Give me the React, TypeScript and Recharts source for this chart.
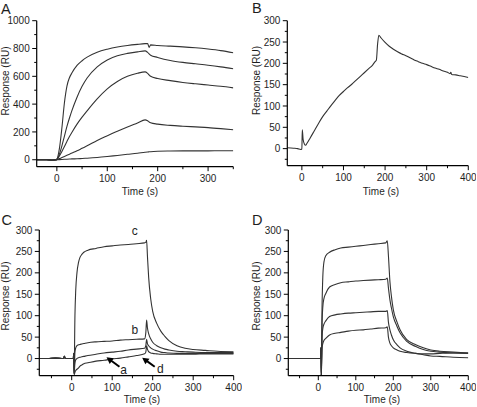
import React from 'react';
import { LineChart, Line, XAxis, YAxis, ReferenceLine, ReferenceDot } from 'recharts';

// ---------- Panel A ----------
const A_TIME = [-40, -20, -10, -5, 0, 5, 10, 15, 20, 25, 30, 40, 50, 60, 80, 100, 120, 140, 160, 175, 180, 183, 186, 200, 225, 250, 275, 300, 325, 350];
const A_CURVE1 = [0, 0, -4, -2, 5, 80, 230, 410, 530, 590, 625, 678, 712, 738, 773, 795, 811, 822, 830, 835, 836, 808, 826, 822, 817, 812, 805, 796, 785, 770];
const A_CURVE2 = [0, 0, -3, -2, 2, 40, 100, 170, 240, 300, 355, 450, 528, 588, 668, 718, 748, 765, 776, 783, 772, 762, 752, 736, 714, 700, 690, 680, 668, 654];
const A_CURVE3 = [0, 0, -2, -1, 1, 28, 60, 95, 132, 167, 198, 256, 306, 352, 438, 510, 563, 600, 622, 632, 621, 610, 600, 584, 569, 556, 546, 537, 528, 517];
const A_CURVE4 = [0, 0, -2, -1, 1, 8, 16, 24, 32, 40, 48, 64, 82, 100, 138, 172, 205, 236, 265, 287, 280, 272, 266, 256, 247, 241, 236, 231, 224, 216];
const A_CURVE5 = [0, 0, -2, -1, 0, 1, 2, 3, 4, 5, 6, 7, 9, 11, 16, 23, 31, 39, 47, 54, 56, 57, 58, 61, 63, 64, 64, 64, 65, 65];
const A_X_TICKS = [0, 50, 100, 150, 200, 250, 300, 350];
const A_X_MAJOR = [0, 100, 200, 300];
const A_Y_TICKS = [0, 100, 200, 300, 400, 500, 600, 700, 800, 900, 1000];
const A_Y_MAJOR = [0, 200, 400, 600, 800, 1000];

// ---------- Panel B ----------
const B_TIME = [-35, -20, -10, -3, 0, 1, 3, 6, 9, 12, 20, 30, 40, 50, 60, 70, 80, 90, 100, 110, 120, 130, 140, 150, 160, 170, 176, 179, 182, 185, 190, 200, 210, 220, 230, 240, 250, 260, 270, 280, 290, 300, 310, 320, 330, 340, 350, 356, 358, 360, 370, 380, 390, 400];
const B_RESP = [2, 1, 0, -2, -1, 44, 22, 11, 8, 12, 25, 42, 59, 75, 88, 101, 113, 125, 134, 143, 151, 160, 169, 178, 187, 196, 204, 207, 245, 266, 260, 249, 240, 233, 227, 222, 218, 213, 208, 204, 200, 197, 193, 189, 186, 182, 179, 176, 179, 174, 173, 171, 169, 167];
const B_X_TICKS = [0, 50, 100, 150, 200, 250, 300, 350, 400];
const B_X_MAJOR = [0, 100, 200, 300, 400];
const B_Y_TICKS = [-25, 0, 25, 50, 75, 100, 125, 150, 175, 200, 225, 250, 275, 300];
const B_Y_MAJOR = [0, 50, 100, 150, 200, 250, 300];

// ---------- Panel C ----------
const C_TIME = [-80, -60, -40, -20, -18, -16, 0, 4, 5, 6, 8, 10, 13, 17, 20, 25, 30, 40, 60, 80, 100, 120, 140, 160, 180, 183, 185, 187, 190, 195, 200, 210, 220, 230, 240, 260, 280, 300, 330, 360, 400];
const C_CURVE_C = [0, 0, 1, 0, 5, 0, 0, 0, 12, -35, 100, 160, 200, 225, 235, 243, 248, 253, 257, 261, 263, 265, 266, 268, 270, 271, 276, 240, 190, 140, 110, 82, 64, 52, 42, 30, 24, 21, 19, 17, 16];
const C_CURVE_B = [0, 0, 1, 0, 5, 0, 0, 0, 12, -35, 15, 25, 30, 32, 33, 34, 35, 37, 39, 40, 41, 43, 44, 45, 46, 60, 90, 72, 58, 46, 38, 30, 25, 22, 20, 17, 16, 15, 14, 14, 14];
const C_CURVE_D = [0, 0, 1, 0, 5, 0, 0, 0, 12, -35, -10, -3, 0, 2, 3, 4, 5, 7, 10, 13, 15, 17, 20, 22, 24, 30, 45, 35, 30, 25, 22, 18, 15, 14, 13, 12, 12, 12, 12, 12, 12];
const C_CURVE_A = [0, 0, 1, 0, 5, 0, 0, 0, 12, -38, -32, -28, -25, -22, -18, -15, -12, -10, -6, -4, -1, 1, 4, 7, 11, 15, 30, 22, 16, 13, 12, 11, 10, 10, 10, 10, 10, 10, 11, 11, 11];
const CD_X_TICKS = [-50, 0, 50, 100, 150, 200, 250, 300, 350, 400];
const CD_X_MAJOR = [0, 100, 200, 300, 400];
const CD_Y_TICKS = [-25, 0, 25, 50, 75, 100, 125, 150, 175, 200, 225, 250, 275, 300];
const CD_Y_MAJOR = [0, 50, 100, 150, 200, 250, 300];
const C_LABELS = [
  { text: 'c', t: 156, v: 289 },
  { text: 'b', t: 156, v: 57 },
  { text: 'a', t: 128, v: -35 },
  { text: 'd', t: 219, v: -34 },
];
const C_ARROWS = [
  { from: { t: 118, v: -19 }, to: { t: 86, v: 3 } },
  { from: { t: 205, v: -19 }, to: { t: 174, v: 2 } },
];

// ---------- Panel D ----------
const D_TIME = [-80, -60, -40, -20, 0, 6, 7, 8, 10, 12, 15, 20, 30, 45, 60, 80, 100, 120, 140, 160, 180, 184, 187, 191, 195, 200, 210, 218, 236, 260, 280, 300, 324, 360, 400];
const D_CURVE1 = [0, 0, 0, 0, 0, 0, 25, -40, 120, 190, 225, 240, 248, 254, 258, 260, 262, 264, 266, 268, 270, 275, 240, 180, 145, 114, 85, 67, 44, 32, 25, 20, 17, 15, 13];
const D_CURVE2 = [0, 0, 0, 0, 0, 0, 25, -40, 80, 120, 140, 152, 167, 173, 177, 179, 181, 182, 183, 184, 185, 188, 165, 137, 118, 98, 75, 60, 40, 28, 21, 17, 15, 13, 12];
const D_CURVE3 = [0, 0, 0, 0, 0, 0, 25, -40, 50, 70, 80, 88, 98, 102, 104, 106, 107, 108, 109, 110, 110, 112, 85, 67, 55, 44, 32, 25, 17, 12, 9, 6, 5, 3, 2];
const D_CURVE4 = [0, 0, 0, 0, 0, 0, 25, -40, 25, 35, 42, 47, 55, 59, 61, 64, 66, 67, 69, 71, 72, 74, 50, 36, 30, 25, 20, 17, 14, 12, 11, 11, 12, 13, 13];

const FONT = 'Arial, "Liberation Sans", Helvetica, sans-serif';
const INK = '#1e1e1e';
const LINE = '#333333';

const build = (time: number[], series: Record<string, number[]>) =>
  time.map((t, i) => {
    const row: any = { t };
    Object.keys(series).forEach((k) => (row[k] = series[k][i]));
    return row;
  });

const dataA = build(A_TIME, { s1: A_CURVE1, s2: A_CURVE2, s3: A_CURVE3, s4: A_CURVE4, s5: A_CURVE5 });
const dataB = build(B_TIME, { s1: B_RESP });
const dataC = build(C_TIME, { c: C_CURVE_C, b: C_CURVE_B, d: C_CURVE_D, a: C_CURVE_A });
const dataD = build(D_TIME, { s1: D_CURVE1, s2: D_CURVE2, s3: D_CURVE3, s4: D_CURVE4 });

const makeXTick = (major: number[]) => (props: any) => {
  const { x, y, payload } = props;
  const isMajor = major.includes(payload.value);
  return (
    <g>
      <line x1={x} x2={x} y1={y} y2={y + (isMajor ? 4.5 : 2.5)} stroke="#000" strokeWidth={1} />
      {isMajor && (
        <text x={x} y={y + 15} textAnchor="middle" fontSize={10} fontFamily={FONT} fill={INK}>
          {payload.value}
        </text>
      )}
    </g>
  );
};

const makeYTick = (major: number[]) => (props: any) => {
  const { x, y, payload } = props;
  const isMajor = major.includes(payload.value);
  return (
    <g>
      <line x1={x} x2={x - (isMajor ? 4.5 : 2.5)} y1={y} y2={y} stroke="#000" strokeWidth={1} />
      {isMajor && (
        <text x={x - 7} y={y + 3.6} textAnchor="end" fontSize={10} fontFamily={FONT} fill={INK}>
          {payload.value}
        </text>
      )}
    </g>
  );
};

const arrowShape = (p: any) => {
  const { x1, y1, x2, y2 } = p;
  const dx = x2 - x1;
  const dy = y2 - y1;
  const len = Math.hypot(dx, dy) || 1;
  const ux = dx / len;
  const uy = dy / len;
  const hl = 6.5;
  const hw = 3.5;
  const bx = x2 - ux * hl;
  const by = y2 - uy * hl;
  const pts = `${x2},${y2} ${bx - uy * hw},${by + ux * hw} ${bx + uy * hw},${by - ux * hw}`;
  return (
    <g>
      <line x1={x1} y1={y1} x2={bx + ux} y2={by + uy} stroke="#000" strokeWidth={2} />
      <polygon points={pts} fill="#000" />
    </g>
  );
};

const textShape = (text: string) => (p: any) => (
  <text x={p.cx} y={p.cy} textAnchor="middle" fontSize={12} fontFamily={FONT} fill={INK}>
    {text}
  </text>
);

type PanelProps = {
  left: number;
  top: number;
  plotLeft: number;
  plotTop: number;
  plotRight: number;
  plotBottom: number;
  data: any[];
  keys: string[];
  xDomain: [number, number];
  yDomain: [number, number];
  xTicks: number[];
  xMajor: number[];
  yTicks: number[];
  yMajor: number[];
  children?: React.ReactNode;
};

function Panel(props: PanelProps) {
  const { left, top, plotLeft, plotTop, plotRight, plotBottom, data, keys } = props;
  const xAxisHeight = 30;
  const rightMargin = 8;
  const width = plotRight - left + rightMargin;
  const height = plotTop - top + (plotBottom - plotTop) + xAxisHeight;
  return (
    <div style={{ position: 'absolute', left, top }}>
      <LineChart
        width={width}
        height={height}
        data={data}
        margin={{ top: plotTop - top, right: rightMargin, left: 0, bottom: 0 }}
      >
        <XAxis
          dataKey="t"
          type="number"
          domain={props.xDomain}
          ticks={props.xTicks}
          interval={0}
          allowDataOverflow
          height={xAxisHeight}
          tickSize={0}
          tickMargin={0}
          tickLine={false}
          axisLine={{ stroke: '#000', strokeWidth: 1.2 }}
          tick={makeXTick(props.xMajor)}
        />
        <YAxis
          type="number"
          domain={props.yDomain}
          ticks={props.yTicks}
          interval={0}
          allowDataOverflow
          width={plotLeft - left}
          tickSize={0}
          tickMargin={0}
          tickLine={false}
          axisLine={{ stroke: '#000', strokeWidth: 1.2 }}
          tick={makeYTick(props.yMajor)}
        />
        {keys.map((k) => (
          <Line
            key={k}
            dataKey={k}
            type="monotone"
            stroke={LINE}
            strokeWidth={1.1}
            dot={false}
            activeDot={false}
            isAnimationActive={false}
          />
        ))}
        {props.children}
      </LineChart>
    </div>
  );
}

const textStyle = { fontFamily: FONT, fill: INK } as const;

export default function App() {
  return (
    <div style={{ position: 'absolute', left: 0, top: 0, width: 477, height: 407, background: '#fff', overflow: 'hidden' }}>
      <Panel
        left={0}
        top={0}
        plotLeft={36.7}
        plotTop={20.7}
        plotRight={233.3}
        plotBottom={166.7}
        data={dataA}
        keys={['s1', 's2', 's3', 's4', 's5']}
        xDomain={[-40, 350]}
        yDomain={[-50, 1000]}
        xTicks={A_X_TICKS}
        xMajor={A_X_MAJOR}
        yTicks={A_Y_TICKS}
        yMajor={A_Y_MAJOR}
      />
      <Panel
        left={240}
        top={0}
        plotLeft={287.3}
        plotTop={20.7}
        plotRight={468.3}
        plotBottom={165.7}
        data={dataB}
        keys={['s1']}
        xDomain={[-35, 400]}
        yDomain={[-40, 300]}
        xTicks={B_X_TICKS}
        xMajor={B_X_MAJOR}
        yTicks={B_Y_TICKS}
        yMajor={B_Y_MAJOR}
      />
      <Panel
        left={0}
        top={200}
        plotLeft={39.3}
        plotTop={230}
        plotRight={233.7}
        plotBottom={375.7}
        data={dataC}
        keys={['c', 'b', 'd', 'a']}
        xDomain={[-80, 400]}
        yDomain={[-40, 300]}
        xTicks={CD_X_TICKS}
        xMajor={CD_X_MAJOR}
        yTicks={CD_Y_TICKS}
        yMajor={CD_Y_MAJOR}
      >
        {C_LABELS.map((l) => (
          <ReferenceDot key={l.text} x={l.t} y={l.v} r={0} shape={textShape(l.text)} />
        ))}
        {C_ARROWS.map((a, i) => (
          <ReferenceLine
            key={'arr' + i}
            segment={[{ x: a.from.t, y: a.from.v }, { x: a.to.t, y: a.to.v }]}
            shape={arrowShape}
          />
        ))}
      </Panel>
      <Panel
        left={240}
        top={200}
        plotLeft={288.3}
        plotTop={230}
        plotRight={468.3}
        plotBottom={375.7}
        data={dataD}
        keys={['s1', 's2', 's3', 's4']}
        xDomain={[-80, 400]}
        yDomain={[-40, 300]}
        xTicks={CD_X_TICKS}
        xMajor={CD_X_MAJOR}
        yTicks={CD_Y_TICKS}
        yMajor={CD_Y_MAJOR}
      />
      <svg width={477} height={407} style={{ position: 'absolute', left: 0, top: 0, pointerEvents: 'none' }}>
        <text x={1} y={13.5} fontSize={14.5} {...textStyle}>A</text>
        <text x={252} y={13} fontSize={14.5} {...textStyle}>B</text>
        <text x={1.5} y={225} fontSize={14.5} {...textStyle}>C</text>
        <text x={252} y={224.5} fontSize={14.5} {...textStyle}>D</text>
        <text x={140} y={194.5} fontSize={10} textAnchor="middle" {...textStyle}>Time (s)</text>
        <text x={381} y={194.5} fontSize={10} textAnchor="middle" {...textStyle}>Time (s)</text>
        <text x={142} y={402.5} fontSize={10} textAnchor="middle" {...textStyle}>Time (s)</text>
        <text x={382} y={402.5} fontSize={10} textAnchor="middle" {...textStyle}>Time (s)</text>
        <text transform="translate(8.8,81) rotate(-90)" fontSize={10} textAnchor="middle" {...textStyle}>Response (RU)</text>
        <text transform="translate(259.8,80.5) rotate(-90)" fontSize={10} textAnchor="middle" {...textStyle}>Response (RU)</text>
        <text transform="translate(8.8,296) rotate(-90)" fontSize={10} textAnchor="middle" {...textStyle}>Response (RU)</text>
        <text transform="translate(259.8,296) rotate(-90)" fontSize={10} textAnchor="middle" {...textStyle}>Response (RU)</text>
      </svg>
    </div>
  );
}
